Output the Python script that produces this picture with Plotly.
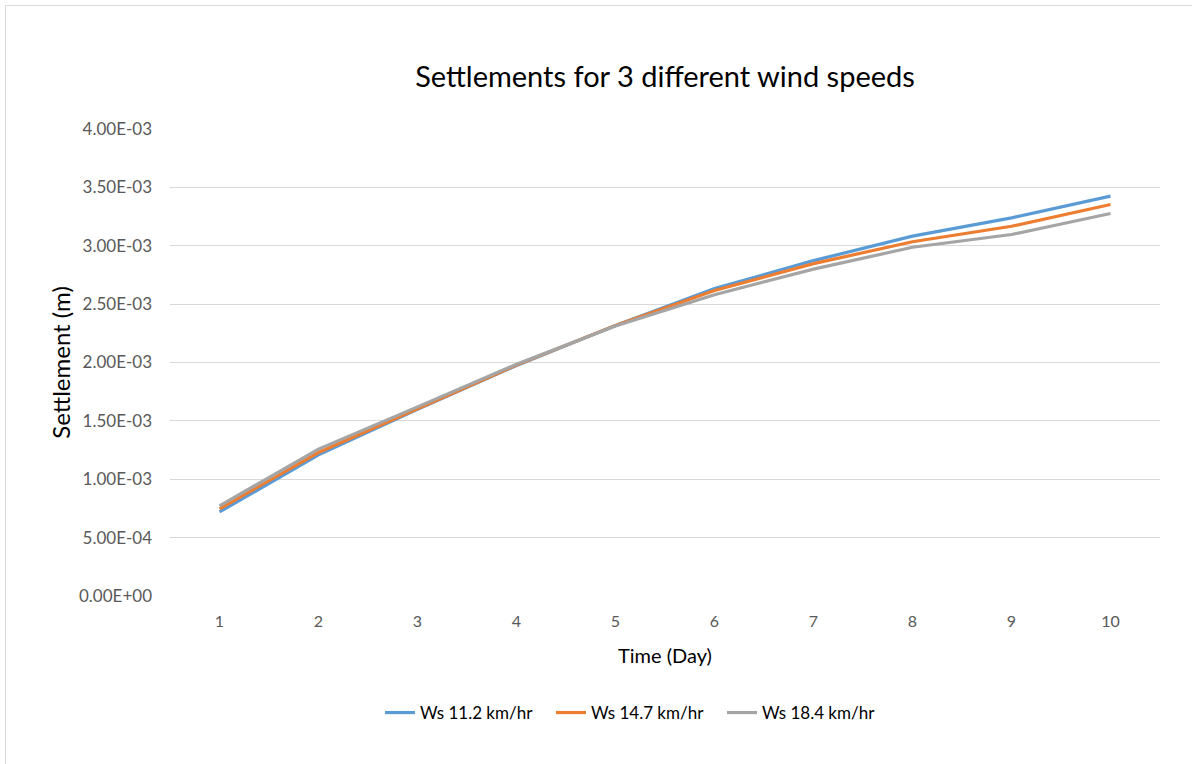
import plotly.graph_objects as go

days = [1, 2, 3, 4, 5, 6, 7, 8, 9, 10]
ws_11_2 = [0.720e-3, 1.209e-3, 1.600e-3, 1.975e-3, 2.316e-3, 2.633e-3, 2.873e-3, 3.082e-3, 3.239e-3, 3.425e-3]
ws_14_7 = [0.746e-3, 1.229e-3, 1.604e-3, 1.978e-3, 2.316e-3, 2.616e-3, 2.847e-3, 3.034e-3, 3.167e-3, 3.353e-3]
ws_18_4 = [0.772e-3, 1.258e-3, 1.620e-3, 1.985e-3, 2.312e-3, 2.580e-3, 2.800e-3, 2.987e-3, 3.096e-3, 3.276e-3]
series_names = ["Ws 11.2 km/hr", "Ws 14.7 km/hr", "Ws 18.4 km/hr"]
series_colors = ["#5B9BD5", "#ED7D31", "#A5A5A5"]
y_ticks = [0, 0.5e-3, 1.0e-3, 1.5e-3, 2.0e-3, 2.5e-3, 3.0e-3, 3.5e-3, 4.0e-3]
y_ticktext = [f"{v:.2E}" for v in y_ticks]

FONT = "Lato"

fig = go.Figure()
for name, vals, col in zip(series_names, [ws_11_2, ws_14_7, ws_18_4], series_colors):
    fig.add_trace(go.Scatter(x=days, y=vals, mode="lines", name=name,
                             line=dict(color=col, width=3.2)))

fig.update_layout(
    width=1192, height=764,
    margin=dict(l=170, r=32, t=129, b=168),
    paper_bgcolor="white", plot_bgcolor="white",
    font=dict(family=FONT, color="#595959", size=16),
    title=dict(text="Settlements for 3 different wind speeds",
               font=dict(family=FONT, size=29, color="#000000"),
               x=0.5, xanchor="center", xref="paper",
               y=1 - 77 / 764, yanchor="middle", yref="container"),
    showlegend=True,
    legend=dict(orientation="h", x=(380 - 170) / 990, xanchor="left",
                y=(596 - 713) / 467, yanchor="middle",
                entrywidth=126, entrywidthmode="pixels",
                font=dict(family=FONT, size=17, color="#000000"),
                bgcolor="rgba(0,0,0,0)"),
    xaxis=dict(range=[0.5, 10.5], tickmode="array", tickvals=days,
               ticktext=[str(d) for d in days],
               showgrid=False, zeroline=False, showline=False,
               ticks="", ticklabelstandoff=14,
               tickfont=dict(size=16, color="#595959"),
               title=dict(text="Time (Day)", standoff=19,
                          font=dict(family=FONT, size=20, color="#000000"))),
    yaxis=dict(range=[0, 4.0e-3], tickmode="array", tickvals=y_ticks,
               ticktext=y_ticktext,
               showgrid=True, gridcolor="#D9D9D9", gridwidth=1,
               zeroline=False, showline=False, ticks="",
               ticklabelstandoff=17,
               tickfont=dict(size=17, color="#595959"),
               title=dict(text="Settlement (m)", standoff=1,
                          font=dict(family=FONT, size=24, color="#000000"))),
)

fig.add_shape(type="rect", xref="paper", yref="paper",
              x0=(5.5 - 170) / 990, x1=1.2, y0=-1.0, y1=(596 - 5.5) / 467,
              line=dict(color="#D9D9D9", width=1), fillcolor="rgba(0,0,0,0)",
              layer="below")

fig.write_html("out.html", config={"displayModeBar": False},
               post_script="document.body.style.margin='0';")
